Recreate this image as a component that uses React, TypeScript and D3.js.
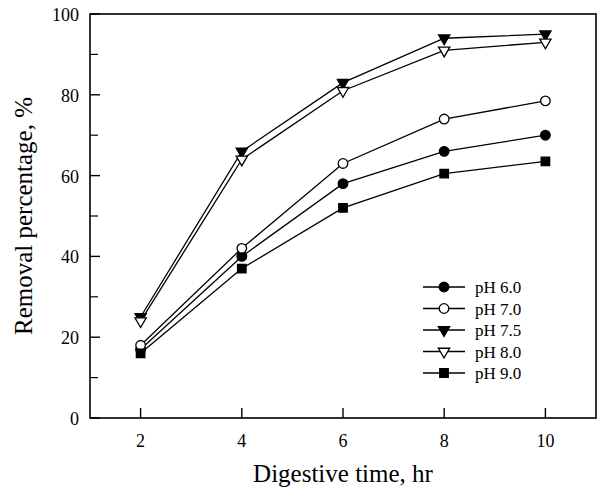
import * as d3 from "d3";
import { useEffect, useRef } from "react";

// digestive time, hr
const times = [2, 4, 6, 8, 10];

// removal percentage, % per pH
const ph60 = [17, 40, 58, 66, 70];
const ph70 = [18, 42, 63, 74, 78.5];
const ph75 = [25, 66, 83, 94, 95];
const ph80 = [24, 64, 81, 91, 93];
const ph90 = [16, 37, 52, 60.5, 63.5];

const seriesNames = ["pH 6.0", "pH 7.0", "pH 7.5", "pH 8.0", "pH 9.0"];
const yTicks = [0, 20, 40, 60, 80, 100];
const yMinorTicks = [10, 30, 50, 70, 90];
const xTicks = [2, 4, 6, 8, 10];

const FONT = "'Liberation Serif', 'Times New Roman', serif";

const App = () => {
  const ref = useRef<SVGSVGElement>(null);

  useEffect(() => {
    const svg = d3.select(ref.current);
    svg.selectAll("*").remove();

    const left = 90, right = 596, top = 14, bottom = 418;
    const x = d3.scaleLinear().domain([1, 11]).range([left, right]);
    const y = d3.scaleLinear().domain([0, 100]).range([bottom, top]);

    const series = [
      { name: seriesNames[0], values: ph60, symbol: d3.symbolCircle, size: 72, fill: "#000", rot: 0 },
      { name: seriesNames[1], values: ph70, symbol: d3.symbolCircle, size: 72, fill: "#fff", rot: 0 },
      { name: seriesNames[2], values: ph75, symbol: d3.symbolTriangle, size: 55, fill: "#000", rot: 180 },
      { name: seriesNames[3], values: ph80, symbol: d3.symbolTriangle, size: 55, fill: "#fff", rot: 180 },
      { name: seriesNames[4], values: ph90, symbol: d3.symbolSquare, size: 72, fill: "#000", rot: 0 },
    ];

    // frame
    svg.append("rect")
      .attr("x", left).attr("y", top)
      .attr("width", right - left).attr("height", bottom - top)
      .attr("fill", "none").attr("stroke", "#000").attr("stroke-width", 1.6);

    const g = svg.append("g");

    // y ticks (inward)
    g.selectAll(".ytick").data(yTicks).join("line")
      .attr("class", "ytick")
      .attr("x1", left).attr("x2", left + 10)
      .attr("y1", (d) => y(d)).attr("y2", (d) => y(d))
      .attr("stroke", "#000").attr("stroke-width", 1.4);
    g.selectAll(".yminor").data(yMinorTicks).join("line")
      .attr("class", "yminor")
      .attr("x1", left).attr("x2", left + 8)
      .attr("y1", (d) => y(d)).attr("y2", (d) => y(d))
      .attr("stroke", "#000").attr("stroke-width", 1.2);
    g.selectAll(".ylab").data(yTicks).join("text")
      .attr("class", "ylab")
      .attr("x", left - 11).attr("y", (d) => y(d) + 7)
      .attr("text-anchor", "end")
      .attr("font-family", FONT).attr("font-size", 18)
      .text((d) => d);

    // x ticks (inward)
    g.selectAll(".xtick").data(xTicks).join("line")
      .attr("class", "xtick")
      .attr("x1", (d) => x(d)).attr("x2", (d) => x(d))
      .attr("y1", bottom).attr("y2", bottom - 10)
      .attr("stroke", "#000").attr("stroke-width", 1.4);
    g.selectAll(".xlab").data(xTicks).join("text")
      .attr("class", "xlab")
      .attr("x", (d) => x(d)).attr("y", 447)
      .attr("text-anchor", "middle")
      .attr("font-family", FONT).attr("font-size", 18)
      .text((d) => d);

    // axis titles
    svg.append("text")
      .attr("x", (left + right) / 2).attr("y", 482)
      .attr("text-anchor", "middle")
      .attr("font-family", FONT).attr("font-size", 25)
      .text("Digestive time, hr");
    svg.append("text")
      .attr("transform", `translate(32,${(top + bottom) / 2}) rotate(-90)`)
      .attr("text-anchor", "middle")
      .attr("font-family", FONT).attr("font-size", 25)
      .text("Removal percentage, %");

    const line = d3.line<number>()
      .x((_, i) => x(times[i]))
      .y((d) => y(d));

    series.forEach((s) => {
      g.append("path")
        .attr("d", line(s.values))
        .attr("fill", "none").attr("stroke", "#000").attr("stroke-width", 1.3);
    });
    series.forEach((s) => {
      const sym = d3.symbol().type(s.symbol).size(s.size);
      g.selectAll(null).data(s.values).join("path")
        .attr("d", sym())
        .attr("transform", (d, i) => `translate(${x(times[i])},${y(d)}) rotate(${s.rot})`)
        .attr("fill", s.fill).attr("stroke", "#000").attr("stroke-width", 1.3);
    });

    // legend
    const lg = svg.append("g");
    const rowY = d3.scaleLinear().domain([0, 1]).range([287, 308.5]);
    series.forEach((s, i) => {
      const yy = rowY(i);
      lg.append("line")
        .attr("x1", 423).attr("x2", 465).attr("y1", yy).attr("y2", yy)
        .attr("stroke", "#000").attr("stroke-width", 1.3);
      lg.append("path")
        .attr("d", d3.symbol().type(s.symbol).size(s.size)())
        .attr("transform", `translate(444,${yy}) rotate(${s.rot})`)
        .attr("fill", s.fill).attr("stroke", "#000").attr("stroke-width", 1.3);
      lg.append("text")
        .attr("x", 475).attr("y", yy + 6)
        .attr("font-family", FONT).attr("font-size", 17)
        .text(s.name);
    });
  }, []);

  return (
    <svg
      ref={ref}
      width={597}
      height={489}
      style={{ position: "absolute", left: 0, top: 0, background: "#fff" }}
    />
  );
};

export default App;
